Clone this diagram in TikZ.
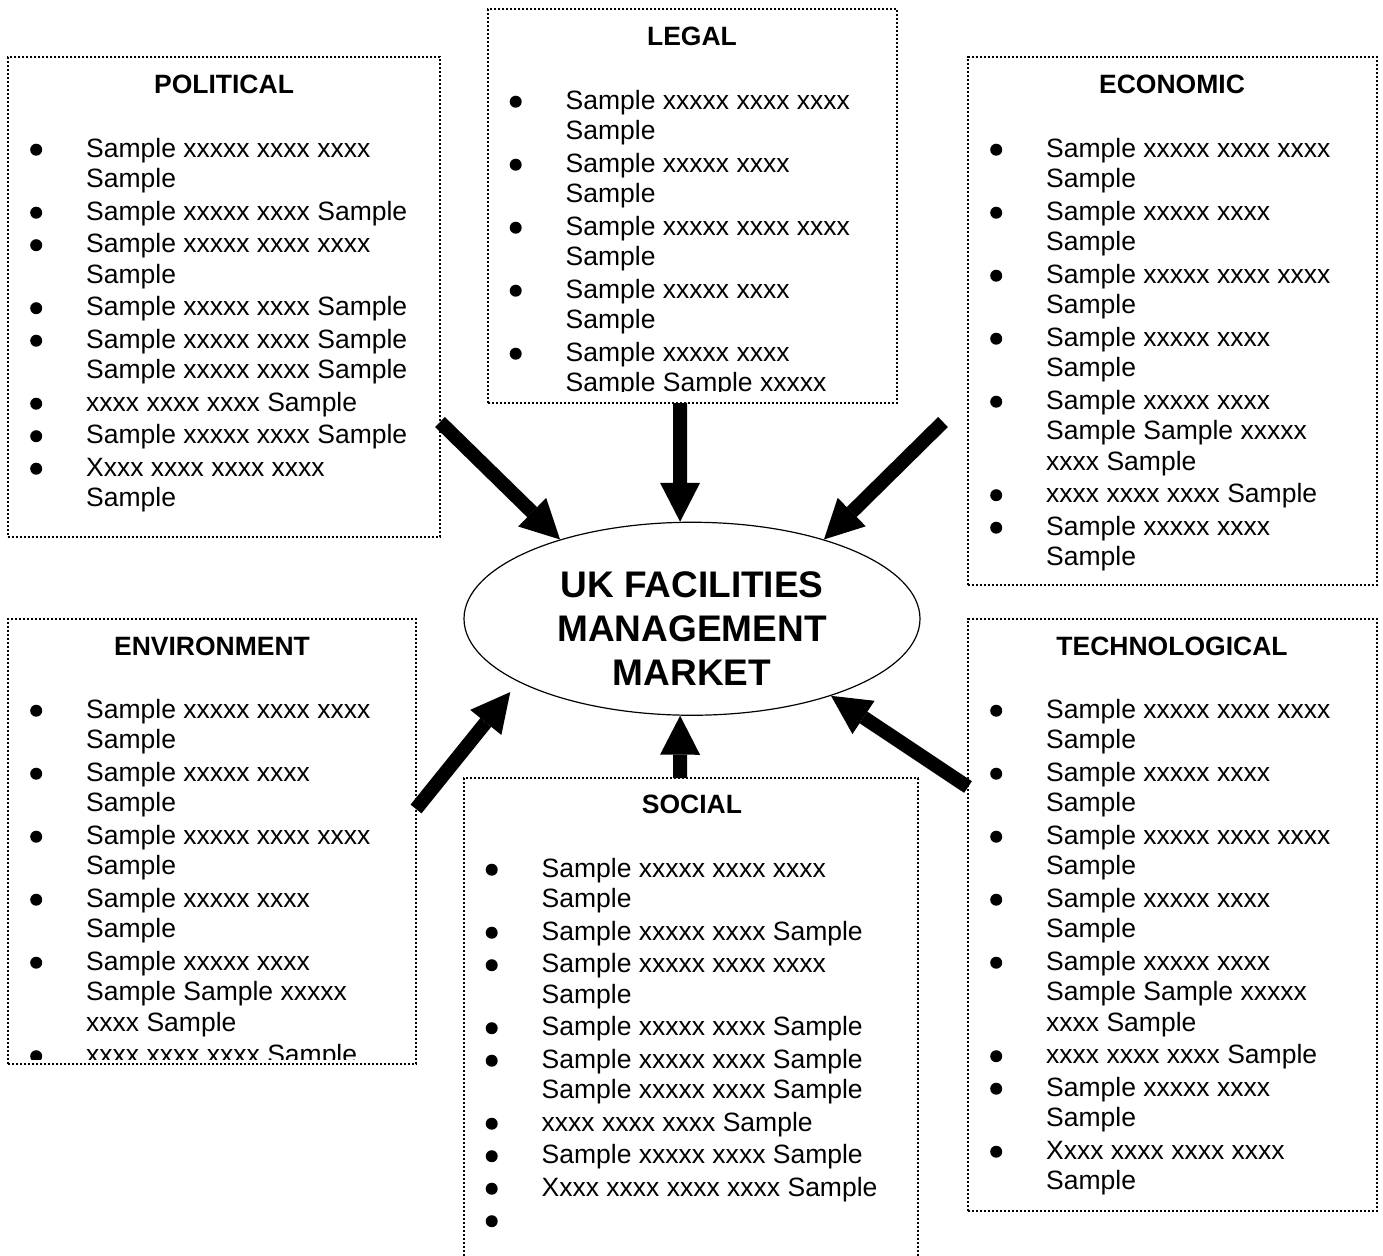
\documentclass[tikz,border=0pt]{standalone}
\usepackage{fontspec}
\setmainfont{Liberation Sans}
\usetikzlibrary{arrows.meta,shapes.geometric}
\newcommand{\pestbullet}{\makebox[0pt]{\tikz[baseline=-7.3pt]\fill (0,0) circle (6pt);}}

\begin{document}
\begin{tikzpicture}[x=1pt,y=-1pt,line join=miter,
  factorbox/.style={draw,line width=2.2pt,dash pattern=on 2.2pt off 1.8pt,anchor=north west,inner sep=0pt,outer sep=0pt},
  factortitle/.style={font=\fontsize{26.5}{30.5}\selectfont\bfseries,anchor=base,inner sep=0pt},
  factorlist/.style={font=\fontsize{26.5}{30.5}\selectfont,anchor=base west,inner sep=0pt},
  market/.style={ellipse,draw,line width=1.2pt,minimum width=456pt,minimum height=193pt,inner sep=0pt},
  markettext/.style={font=\fontsize{37}{44}\selectfont\bfseries,align=center,inner sep=0pt},
  bigarrow/.style={line width=14pt,-{Triangle[length=39pt,width=40pt,line width=0pt]}}]
\path[use as bounding box,fill=white] (0,0) rectangle (1383,1255);
% Ramki czynników.
\node[factorbox,minimum width=432pt,minimum height=480pt] (political) at (8,57) {};
\node[factorbox,minimum width=409pt,minimum height=394pt] (legal) at (488,9) {};
\node[factorbox,minimum width=409pt,minimum height=528pt] (economic) at (968,57) {};
\node[factorbox,minimum width=408pt,minimum height=445pt] (environment) at (8,619) {};
\node[factorbox,minimum width=409pt,minimum height=592pt] (technological) at (968,619) {};
\node[factorbox,minimum width=454pt,minimum height=520pt] (social) at (464,778) {};
% Tytuły ramek.
\node[factortitle] (politicalTitle) at (224,93.5) {POLITICAL};
\node[factortitle] (legalTitle) at (692,45.5) {LEGAL};
\node[factortitle] (economicTitle) at (1172,93.5) {ECONOMIC};
\node[factortitle] (environmentTitle) at (212,655.5) {ENVIRONMENT};
\node[factortitle] (technologicalTitle) at (1172,655.5) {TECHNOLOGICAL};
\node[factortitle] (socialTitle) at (692,813.5) {SOCIAL};
% Listy punktów.
\node[factorlist] (politicalList) at (36,157) {\begin{tabular}[t]{@{}p{50pt}@{}l@{}}
\pestbullet & Sample xxxxx xxxx xxxx\\ & Sample\\[2pt]
\pestbullet & Sample xxxxx xxxx Sample\\[2pt]
\pestbullet & Sample xxxxx xxxx xxxx\\ & Sample\\[2pt]
\pestbullet & Sample xxxxx xxxx Sample\\[2pt]
\pestbullet & Sample xxxxx xxxx Sample\\ & Sample xxxxx xxxx Sample\\[2pt]
\pestbullet & xxxx xxxx xxxx Sample\\[2pt]
\pestbullet & Sample xxxxx xxxx Sample\\[2pt]
\pestbullet & Xxxx xxxx xxxx xxxx\\ & Sample
\end{tabular}};
\begin{scope}
\clip (488,9) rectangle (897,391);
\node[factorlist] (legalList) at (515.5,109) {\begin{tabular}[t]{@{}p{50pt}@{}l@{}}
\pestbullet & Sample xxxxx xxxx xxxx\\ & Sample\\[2pt]
\pestbullet & Sample xxxxx xxxx\\ & Sample\\[2pt]
\pestbullet & Sample xxxxx xxxx xxxx\\ & Sample\\[2pt]
\pestbullet & Sample xxxxx xxxx\\ & Sample\\[2pt]
\pestbullet & Sample xxxxx xxxx\\ & Sample Sample xxxxx
\end{tabular}};
\end{scope}
\node[factorlist] (economicList) at (996,157) {\begin{tabular}[t]{@{}p{50pt}@{}l@{}}
\pestbullet & Sample xxxxx xxxx xxxx\\ & Sample\\[2pt]
\pestbullet & Sample xxxxx xxxx\\ & Sample\\[2pt]
\pestbullet & Sample xxxxx xxxx xxxx\\ & Sample\\[2pt]
\pestbullet & Sample xxxxx xxxx\\ & Sample\\[2pt]
\pestbullet & Sample xxxxx xxxx\\ & Sample Sample xxxxx\\ & xxxx Sample\\[2pt]
\pestbullet & xxxx xxxx xxxx Sample\\[2pt]
\pestbullet & Sample xxxxx xxxx\\ & Sample
\end{tabular}};
\begin{scope}
\clip (8,619) rectangle (416,1059);
\node[factorlist] (environmentList) at (36,718) {\begin{tabular}[t]{@{}p{50pt}@{}l@{}}
\pestbullet & Sample xxxxx xxxx xxxx\\ & Sample\\[2pt]
\pestbullet & Sample xxxxx xxxx\\ & Sample\\[2pt]
\pestbullet & Sample xxxxx xxxx xxxx\\ & Sample\\[2pt]
\pestbullet & Sample xxxxx xxxx\\ & Sample\\[2pt]
\pestbullet & Sample xxxxx xxxx\\ & Sample Sample xxxxx\\ & xxxx Sample\\[2pt]
\pestbullet & xxxx xxxx xxxx Sample
\end{tabular}};
\end{scope}
\node[factorlist] (technologicalList) at (996,718) {\begin{tabular}[t]{@{}p{50pt}@{}l@{}}
\pestbullet & Sample xxxxx xxxx xxxx\\ & Sample\\[2pt]
\pestbullet & Sample xxxxx xxxx\\ & Sample\\[2pt]
\pestbullet & Sample xxxxx xxxx xxxx\\ & Sample\\[2pt]
\pestbullet & Sample xxxxx xxxx\\ & Sample\\[2pt]
\pestbullet & Sample xxxxx xxxx\\ & Sample Sample xxxxx\\ & xxxx Sample\\[2pt]
\pestbullet & xxxx xxxx xxxx Sample\\[2pt]
\pestbullet & Sample xxxxx xxxx\\ & Sample\\[2pt]
\pestbullet & Xxxx xxxx xxxx xxxx\\ & Sample
\end{tabular}};
\node[factorlist] (socialList) at (491.5,877) {\begin{tabular}[t]{@{}p{50pt}@{}l@{}}
\pestbullet & Sample xxxxx xxxx xxxx\\ & Sample\\[2pt]
\pestbullet & Sample xxxxx xxxx Sample\\[2pt]
\pestbullet & Sample xxxxx xxxx xxxx\\ & Sample\\[2pt]
\pestbullet & Sample xxxxx xxxx Sample\\[2pt]
\pestbullet & Sample xxxxx xxxx Sample\\ & Sample xxxxx xxxx Sample\\[2pt]
\pestbullet & xxxx xxxx xxxx Sample\\[2pt]
\pestbullet & Sample xxxxx xxxx Sample\\[2pt]
\pestbullet & Xxxx xxxx xxxx xxxx Sample\\[2pt]
\pestbullet &
\end{tabular}};
% Rynek w środku.
\node[market] (market) at (692,618.75) {};
\node[markettext] (marketText) at (692,629) {UK FACILITIES\\MANAGEMENT\\MARKET};
% Strzałki od ramek do rynku.
\coordinate (politicalOut) at (440,422);
\coordinate (legalOut) at (680,403);
\coordinate (economicOut) at (943,422);
\coordinate (environmentOut) at (416,809);
\coordinate (socialOut) at (680,778);
\coordinate (technologicalOut) at (968,787);
\draw[bigarrow] (politicalOut) -- (market.149);
\draw[bigarrow] (legalOut) -- (market.97);
\draw[bigarrow] (economicOut) -- (market.31);
\draw[bigarrow,shorten >=13pt] (environmentOut) -- (market.200);
\draw[bigarrow] (socialOut) -- (market.263);
\draw[bigarrow] (technologicalOut) -- (market.331);
\end{tikzpicture}
\end{document}
